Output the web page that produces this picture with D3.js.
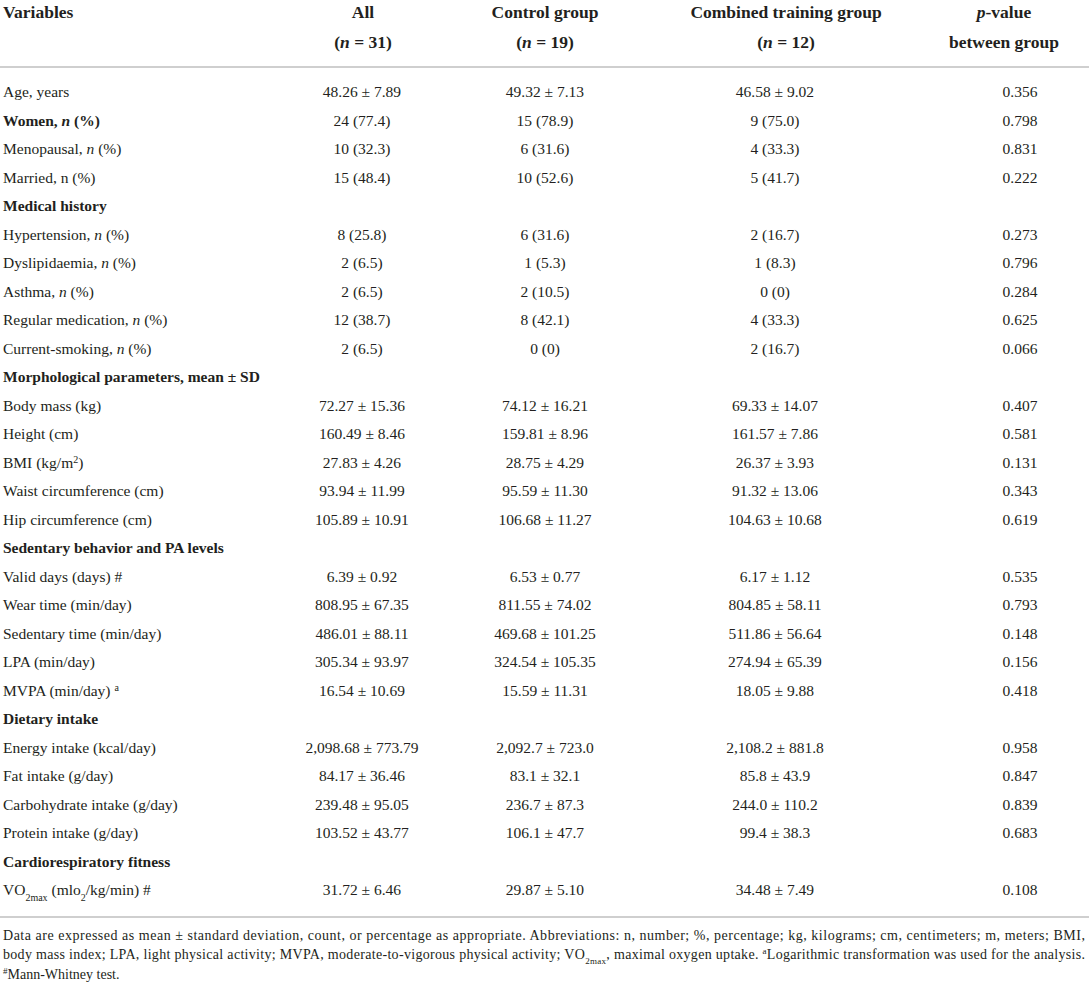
<!DOCTYPE html>
<html><head><meta charset="utf-8">
<script src="https://cdn.jsdelivr.net/npm/d3@7"></script>
<style>body{margin:0;background:#fff;} svg{display:block;}</style>
</head><body>
<svg id="c" width="1089" height="985"></svg>
<script>
// ---- data ----
const headers = [
  ["Variables"],
  ["All", "(n = 31)"],
  ["Control group", "(n = 19)"],
  ["Combined training group", "(n = 12)"],
  ["p-value", "between group"]
];
const variables = [
  "Age, years", "Women, n (%)", "Menopausal, n (%)", "Married, n (%)",
  "Medical history", "Hypertension, n (%)", "Dyslipidaemia, n (%)", "Asthma, n (%)",
  "Regular medication, n (%)", "Current-smoking, n (%)",
  "Morphological parameters, mean ± SD", "Body mass (kg)", "Height (cm)", "BMI (kg/m2)",
  "Waist circumference (cm)", "Hip circumference (cm)",
  "Sedentary behavior and PA levels", "Valid days (days) #", "Wear time (min/day)",
  "Sedentary time (min/day)", "LPA (min/day)", "MVPA (min/day) a",
  "Dietary intake", "Energy intake (kcal/day)", "Fat intake (g/day)",
  "Carbohydrate intake (g/day)", "Protein intake (g/day)",
  "Cardiorespiratory fitness", "VO2max (mlo2/kg/min) #"
];
const boldRows = ["Women, n (%)", "Medical history", "Morphological parameters, mean ± SD",
  "Sedentary behavior and PA levels", "Dietary intake", "Cardiorespiratory fitness"];
const allGroup = ["48.26 ± 7.89","24 (77.4)","10 (32.3)","15 (48.4)","",
  "8 (25.8)","2 (6.5)","2 (6.5)","12 (38.7)","2 (6.5)","",
  "72.27 ± 15.36","160.49 ± 8.46","27.83 ± 4.26","93.94 ± 11.99","105.89 ± 10.91","",
  "6.39 ± 0.92","808.95 ± 67.35","486.01 ± 88.11","305.34 ± 93.97","16.54 ± 10.69","",
  "2,098.68 ± 773.79","84.17 ± 36.46","239.48 ± 95.05","103.52 ± 43.77","","31.72 ± 6.46"];
const controlGroup = ["49.32 ± 7.13","15 (78.9)","6 (31.6)","10 (52.6)","",
  "6 (31.6)","1 (5.3)","2 (10.5)","8 (42.1)","0 (0)","",
  "74.12 ± 16.21","159.81 ± 8.96","28.75 ± 4.29","95.59 ± 11.30","106.68 ± 11.27","",
  "6.53 ± 0.77","811.55 ± 74.02","469.68 ± 101.25","324.54 ± 105.35","15.59 ± 11.31","",
  "2,092.7 ± 723.0","83.1 ± 32.1","236.7 ± 87.3","106.1 ± 47.7","","29.87 ± 5.10"];
const trainingGroup = ["46.58 ± 9.02","9 (75.0)","4 (33.3)","5 (41.7)","",
  "2 (16.7)","1 (8.3)","0 (0)","4 (33.3)","2 (16.7)","",
  "69.33 ± 14.07","161.57 ± 7.86","26.37 ± 3.93","91.32 ± 13.06","104.63 ± 10.68","",
  "6.17 ± 1.12","804.85 ± 58.11","511.86 ± 56.64","274.94 ± 65.39","18.05 ± 9.88","",
  "2,108.2 ± 881.8","85.8 ± 43.9","244.0 ± 110.2","99.4 ± 38.3","","34.48 ± 7.49"];
const pValues = ["0.356","0.798","0.831","0.222","",
  "0.273","0.796","0.284","0.625","0.066","",
  "0.407","0.581","0.131","0.343","0.619","",
  "0.535","0.793","0.148","0.156","0.418","",
  "0.958","0.847","0.839","0.683","","0.108"];
const footnotes = [
  "Data are expressed as mean ± standard deviation, count, or percentage as appropriate. Abbreviations: n, number; %, percentage; kg, kilograms; cm, centimeters; m, meters; BMI,",
  "body mass index; LPA, light physical activity; MVPA, moderate-to-vigorous physical activity; VO2max, maximal oxygen uptake. aLogarithmic transformation was used for the analysis.",
  "#Mann-Whitney test."
];

// ---- layout ----
const W = 1089;
const svg = d3.select("#c");
const FONT = "'Liberation Serif','Times New Roman',serif";
const INK = "#231f20";
const colX = d3.scaleOrdinal().domain([0,1,2,3,4]).range([3, 362, 545, 775, 1020]);
const headX = d3.scaleOrdinal().domain([0,1,2,3,4]).range([3, 363, 545, 786, 1004]);
const y = d3.scalePoint().domain(d3.range(variables.length)).range([92, 890]);

// header
headers.forEach((h, i) => {
  h.forEach((line, j) => {
    const t = svg.append("text")
      .attr("x", headX(i)).attr("y", 12 + j*30).attr("dy", "0.35em")
      .attr("text-anchor", i === 0 ? "start" : "middle")
      .attr("font-family", FONT).attr("font-weight", "bold").attr("font-size", 17.5).attr("fill", INK);
    if (line.startsWith("(n")) {
      t.append("tspan").text("(");
      t.append("tspan").attr("font-style","italic").text("n");
      t.append("tspan").text(line.slice(2));
    } else if (line.startsWith("p-")) {
      t.append("tspan").attr("font-style","italic").text("p");
      t.append("tspan").text(line.slice(1));
    } else t.text(line);
  });
});

svg.append("line").attr("x1",0).attr("x2",W).attr("y1",67).attr("y2",67)
  .attr("stroke","#cfcfcf").attr("stroke-width",2);

// label renderer with italic n, superscripts, subscripts
function label(t, s) {
  const add = (txt, o={}) => {
    const ts = t.append("tspan").text(txt);
    if (o.it) ts.attr("font-style","italic");
    if (o.sup) ts.attr("font-size", o.size || 10).attr("baseline-shift", "super");
    if (o.sub) ts.attr("font-size", o.size || 10).attr("baseline-shift", "sub");
    return ts;
  };
  if (s === "BMI (kg/m2)") { add("BMI (kg/m"); add("2",{sup:true}); add(")"); return; }
  if (s === "VO2max (mlo2/kg/min) #") {
    add("VO"); add("2max",{sub:true}); add(" (mlo"); add("2",{sub:true}); add("/kg/min) "); add("#",{size:11}); return;
  }
  if (s === "MVPA (min/day) a") { add("MVPA (min/day) "); add("a",{sup:true, size:10}); return; }
  if (s === "Valid days (days) #") { add("Valid days (days) "); add("#",{size:11}); return; }
  const m = s.match(/^(.*), n (\(%\))$/);
  if (m) {
    add(m[1] + ", ");
    add("n", {it: !s.startsWith("Married")});
    add(" " + m[2]);
    return;
  }
  add(s);
}

const cols = [allGroup, controlGroup, trainingGroup, pValues];
variables.forEach((v, i) => {
  const t = svg.append("text").attr("x", colX(0)).attr("y", y(i)).attr("dy","0.35em")
    .attr("font-family", FONT).attr("font-size", 15.5).attr("fill", INK)
    .attr("font-weight", boldRows.includes(v) ? "bold" : "normal");
  label(t, v);
  cols.forEach((col, c) => {
    if (!col[i]) return;
    svg.append("text").attr("x", colX(c+1)).attr("y", y(i)).attr("dy","0.35em")
      .attr("text-anchor","middle").attr("font-family", FONT).attr("font-size", 15.5)
      .attr("fill", INK).text(col[i]);
  });
});

svg.append("line").attr("x1",0).attr("x2",W).attr("y1",917).attr("y2",917)
  .attr("stroke","#cfcfcf").attr("stroke-width",2);

// footnotes
const fy = [935, 954.5, 974];
footnotes.forEach((f, i) => {
  const t = svg.append("text").attr("x", 3).attr("y", fy[i]).attr("dy","0.35em")
    .attr("font-family", FONT).attr("font-size", 14).attr("fill", INK);
  if (i < 2) t.attr("textLength", 1082).attr("lengthAdjust", "spacing");
  if (i === 1) {
    const parts = f.split("VO2max");
    t.append("tspan").text(parts[0] + "VO");
    t.append("tspan").attr("font-size",9).attr("baseline-shift","sub").text("2max");
    const rest = parts[1].split(" aLog");
    t.append("tspan").text(rest[0] + " ");
    t.append("tspan").attr("font-size",9).attr("baseline-shift","super").text("a");
    t.append("tspan").text("Log" + rest[1]);
  } else if (i === 2) {
    t.append("tspan").attr("font-size",9).attr("baseline-shift","super").text("#");
    t.append("tspan").text(f.slice(1));
  } else t.text(f);
});
</script>
</body></html>
